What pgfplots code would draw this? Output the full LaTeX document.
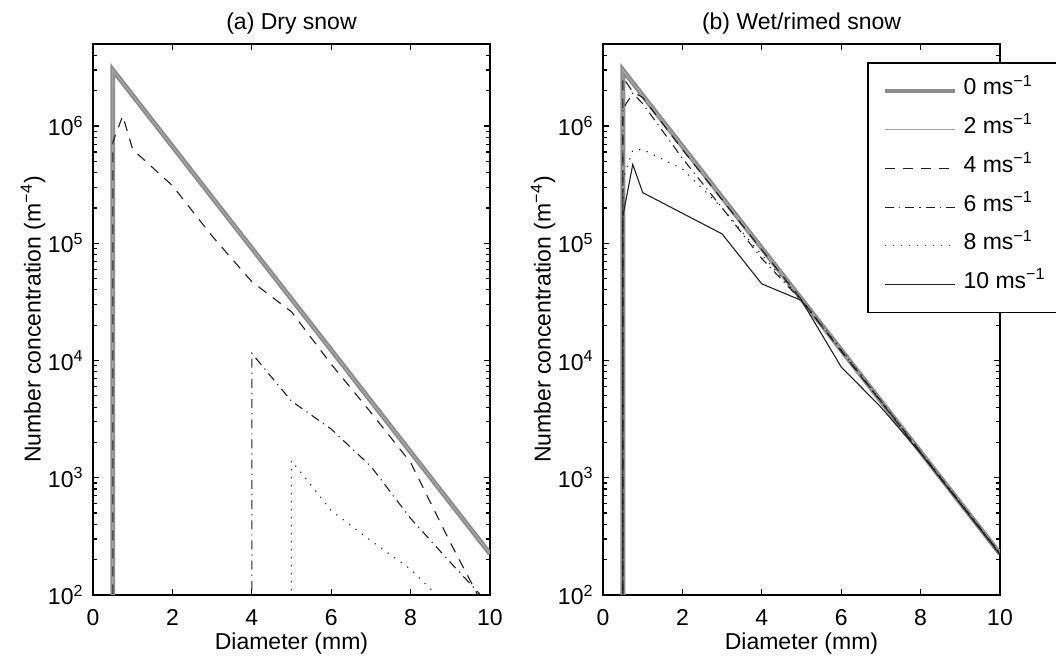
\documentclass[border=0pt]{standalone}
\usepackage{fontspec}
\setmainfont{Liberation Sans}
\usepackage{pgfplots}
\pgfplotsset{compat=1.18}
\definecolor{g0}{RGB}{140,140,140}
\definecolor{g2}{RGB}{165,165,165}
\definecolor{ink}{RGB}{30,30,30}
\newcommand\fs{\fontsize{11.5}{13.8}\selectfont}

\pgfplotsset{
  every axis/.append style={
    scale only axis, width=198.5pt, height=275.5pt,
    xmin=0, xmax=10, ymin=100, ymax=5e6,
    xtick={0,2,4,6,8,10}, xticklabels={0,2,4,6,8,10},
    tick align=inside, tick pos=both,
    major tick length=3pt, minor tick length=2pt,
    axis line style={line width=0.8pt},
    every tick/.style={line width=0.6pt, black},
    tick label style={font=\fs},
    xticklabel style={anchor=base, yshift=-15.5pt},
    yticklabel={10\textsuperscript{\pgfmathparse{int(round(\tick/ln(10)))}\pgfmathresult}},
    yticklabel style={anchor=east, xshift=-1.2pt},
    label style={font=\fs},
    xlabel={Diameter (mm)},
    ylabel={Number concentration (m\textsuperscript{−4})},
    xlabel style={at={(axis description cs:0.5,0)}, anchor=base, yshift=-27.5pt},
    ylabel style={at={(axis description cs:-0.151,0.5)}, anchor=center},
    title style={font=\fs, at={(axis description cs:0.5,1)}, anchor=base, yshift=1pt},
    legend image code/.code={\draw[##1] (0pt,0pt) -- (35pt,0pt);},
  },
}
\tikzset{
  sz0/.style={g0, line width=2.4pt},
  sz2/.style={g2, line width=0.6pt},
  sz4/.style={ink, line width=0.55pt, dash pattern=on 5pt off 4pt},
  sz6/.style={ink, line width=0.55pt, dash pattern=on 4.5pt off 2.5pt on 0.6pt off 2.5pt},
  sz8/.style={ink, line width=0.55pt, dash pattern=on 0.6pt off 3.4pt},
  sz10/.style={ink, line width=0.55pt},
}

\begin{document}
\begin{tikzpicture}
% (a) dry snow
\begin{semilogyaxis}[at={(46.5pt,31.5pt)}, anchor=south west, title={(a) Dry snow}]
\addplot[sz0] coordinates {(0.5,50) (0.5,3.0e6) (1,1.82e6) (2,6.7e5) (3,2.46e5) (4,9.07e4) (5,3.34e4) (6,1.23e4) (7,4.51e3) (8,1.66e3) (9,611) (10,225)};
\addplot[sz2] coordinates {(0.5,50) (0.5,3.0e6) (1,1.82e6) (2,6.7e5) (3,2.46e5) (4,9.07e4) (5,3.34e4) (6,1.23e4) (7,4.51e3) (8,1.66e3) (9,611) (10,225)};
\addplot[sz4] coordinates {(0.5,50) (0.5,7.3e5) (0.75,1.22e6) (1,6.3e5) (2,3.1e5) (3,1.15e5) (4,4.7e4) (5,2.6e4) (6,9.3e3) (7,3.6e3) (8,1.35e3) (9,280) (10,63)};
\addplot[sz6] coordinates {(4,50) (4,1.15e4) (5,4.5e3) (6,2.6e3) (7,1.25e3) (8,450) (9,190) (10,82)};
\addplot[sz8] coordinates {(5,50) (5,1.4e3) (6,525) (7,290) (8,166) (9,76)};
\end{semilogyaxis}
% (b) wet/rimed snow
\begin{semilogyaxis}[at={(301.5pt,31.5pt)}, anchor=south west, title={(b) Wet/rimed snow},
  legend cell align=left,
  legend style={at={(axis description cs:0.665,0.967)}, anchor=north west,
    draw=black, line width=0.8pt, fill=white, font=\fs,
    inner xsep=7.5pt, inner ysep=7pt, row sep=5.35pt, column sep=3pt,
    nodes={inner sep=0pt, text height=9pt, text depth=5pt}}]
\addplot[sz0] coordinates {(0.5,50) (0.5,3.0e6) (1,1.82e6) (2,6.7e5) (3,2.46e5) (4,9.07e4) (5,3.34e4) (6,1.23e4) (7,4.51e3) (8,1.66e3) (9,611) (10,225)};
\addlegendentry{0 ms\textsuperscript{−1}}
\addplot[sz2] coordinates {(0.5,50) (0.5,3.0e6) (1,1.82e6) (2,6.7e5) (3,2.46e5) (4,9.07e4) (5,3.34e4) (6,1.23e4) (7,4.51e3) (8,1.66e3) (9,611) (10,225)};
\addlegendentry{2 ms\textsuperscript{−1}}
\addplot[sz4] coordinates {(0.5,50) (0.5,2.6e6) (0.75,1.95e6) (1,1.75e6) (2,6.3e5) (3,2.35e5) (4,8.8e4) (5,3.3e4) (6,1.2e4) (7,4.45e3) (8,1.64e3) (9,605) (10,222)};
\addlegendentry{4 ms\textsuperscript{−1}}
\addplot[sz6] coordinates {(0.5,50) (0.5,1.4e6) (0.75,1.9e6) (1,1.55e6) (2,5.3e5) (3,2.0e5) (4,7.4e4) (5,3.25e4) (6,1.22e4) (7,4.5e3) (8,1.65e3) (9,610) (10,226)};
\addlegendentry{6 ms\textsuperscript{−1}}
\addplot[sz8] coordinates {(0.5,50) (0.5,3.5e5) (0.75,6.2e5) (1,6.3e5) (2,4.3e5) (3,2.0e5) (4,7.9e4) (5,3.3e4) (6,1.24e4) (7,4.55e3) (8,1.67e3) (9,615) (10,226)};
\addlegendentry{8 ms\textsuperscript{−1}}
\addplot[sz10] coordinates {(0.5,50) (0.5,1.7e5) (0.75,4.7e5) (1,2.7e5) (3,1.2e5) (4,4.5e4) (5,3.25e4) (6,8.8e3) (7,4.0e3) (8,1.62e3) (9,600) (10,222)};
\addlegendentry{10 ms\textsuperscript{−1}\hspace*{20pt}}
\end{semilogyaxis}
\pgfresetboundingbox
\useasboundingbox (0pt,0pt) rectangle (528pt,329pt);
\end{tikzpicture}
\end{document}
